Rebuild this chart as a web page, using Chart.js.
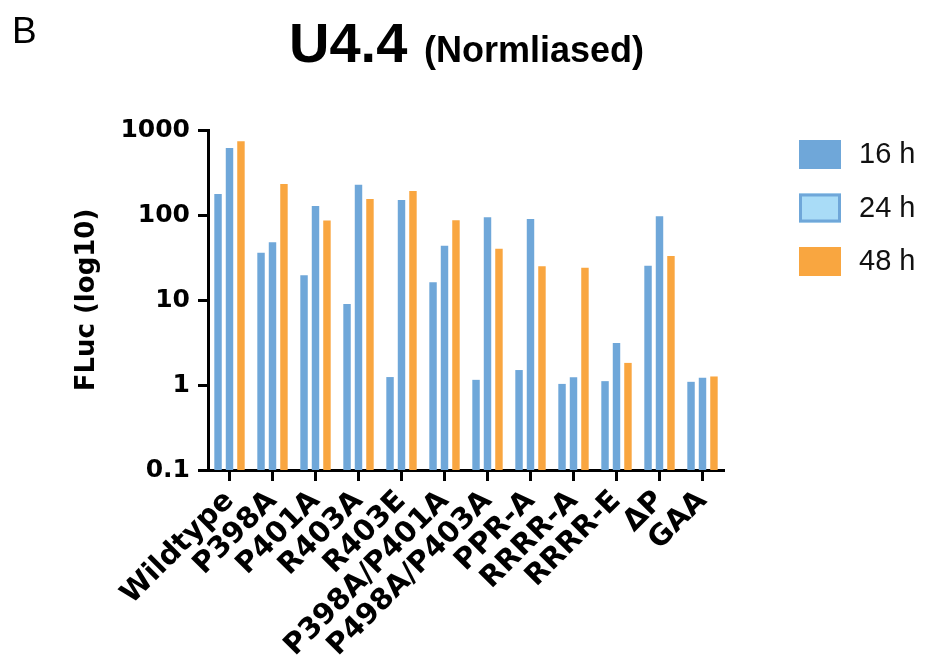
<!DOCTYPE html>
<html>
<head>
<meta charset="utf-8">
<title>U4.4 (Normliased)</title>
<script src="https://cdn.jsdelivr.net/npm/chart.js@4.4.1/dist/chart.umd.min.js"></script>
<style>
  html, body { margin: 0; padding: 0; background: #ffffff; }
  #wrap { width: 925px; height: 659px; position: relative; }
</style>
</head>
<body>
<div id="wrap"><canvas id="c" width="925" height="659"></canvas></div>
<script>
// Constructs tested
const categories = ['Wildtype', 'P398A', 'P401A', 'R403A', 'R403E', 'P398A/P401A',
  'P498A/P403A', 'PPR-A', 'RRRR-A', 'RRRR-E', '\u0394P', 'GAA'];

// Normalised FLuc signal per time point
const fluc16h = [177, 36, 19.5, 9.0, 1.24, 16.2, 1.15, 1.5, 1.03, 1.11, 25.3, 1.09];
const fluc24h = [614, 47.8, 128, 227, 150, 43.5, 94, 90, 1.23, 3.12, 96.5, 1.22];
const fluc48h = [737, 231, 86, 154, 191, 87, 40, 25, 24, 1.82, 33, 1.26];

const seriesLabels = ['16 h', '24 h', '48 h'];

// Decade ticks on the log axis
const yTickValues = [0.1, 1, 10, 100, 1000];
const yTickLabels = ['0.1', '1', '10', '100', '1000'];

const BLUE = '#6fa7d9';
const LIGHT_BLUE = '#a9dcf7';
const ORANGE = '#f9a640';
const WIDE = '"DejaVu Sans", "Liberation Sans", sans-serif';
const SANS = '"Liberation Sans", Arial, Helvetica, sans-serif';

// Heading, panel letter and the key on the right
const decorations = {
  id: 'decorations',
  afterDraw(chart) {
    const ctx = chart.ctx;
    ctx.save();
    ctx.fillStyle = '#000';
    ctx.textBaseline = 'alphabetic';
    ctx.textAlign = 'left';

    ctx.font = '37px ' + SANS;
    ctx.fillText('B', 12, 43);

    ctx.font = 'bold 56px ' + SANS;
    ctx.fillText('U4.4', 289, 62);
    ctx.font = 'bold 36px ' + SANS;
    ctx.fillText('(Normliased)', 424, 62);

    // key
    const keyFill = [BLUE, LIGHT_BLUE, ORANGE];
    const keyStroke = [null, BLUE, null];
    const rowY = [140, 193.5, 247];
    ctx.font = '29px ' + SANS;
    ctx.textBaseline = 'middle';
    chart.data.datasets.forEach((ds, i) => {
      const y = rowY[i];
      ctx.fillStyle = keyFill[i];
      ctx.fillRect(799, y, 42, 29);
      if (keyStroke[i]) {
        ctx.strokeStyle = keyStroke[i];
        ctx.lineWidth = 3;
        ctx.strokeRect(800.5, y + 1.5, 39, 26);
      }
      ctx.fillStyle = '#111';
      ctx.fillText(ds.label, 859, y + 15);
    });
    ctx.restore();
  }
};

const barOpts = { barPercentage: 0.65, categoryPercentage: 0.8, borderWidth: 0 };

new Chart(document.getElementById('c'), {
  type: 'bar',
  data: {
    labels: categories,
    datasets: [
      Object.assign({ label: seriesLabels[0], data: fluc16h, backgroundColor: BLUE }, barOpts),
      Object.assign({ label: seriesLabels[1], data: fluc24h, backgroundColor: BLUE }, barOpts),
      Object.assign({ label: seriesLabels[2], data: fluc48h, backgroundColor: ORANGE }, barOpts)
    ]
  },
  options: {
    responsive: false,
    animation: false,
    devicePixelRatio: 1,
    layout: { padding: { left: 0, right: 201, top: 130, bottom: 0 } },
    plugins: {
      legend: { display: false },
      tooltip: { enabled: false },
      title: { display: false }
    },
    scales: {
      x: {
        type: 'category',
        offset: true,
        grid: {
          offset: false,
          drawOnChartArea: false,
          drawTicks: true,
          tickLength: 11,
          tickWidth: 3,
          tickColor: '#000'
        },
        border: { display: true, color: '#000', width: 3 },
        ticks: {
          autoSkip: false,
          minRotation: 45,
          maxRotation: 45,
          padding: 3,
          color: '#000',
          font: { family: WIDE, size: 29, weight: 'bold' }
        },
        afterFit(scale) { scale.height = 189; }
      },
      y: {
        type: 'logarithmic',
        min: 0.1,
        max: 1000,
        grid: {
          drawOnChartArea: false,
          drawTicks: true,
          tickLength: 10,
          tickWidth: 3,
          tickColor: '#000'
        },
        border: { display: true, color: '#000', width: 3 },
        afterBuildTicks(scale) {
          scale.ticks = yTickValues.map(v => ({ value: v, major: true }));
        },
        ticks: {
          padding: 8,
          color: '#000',
          font: { family: WIDE, size: 25, weight: 'bold' },
          callback(value) {
            const i = yTickValues.indexOf(Number(value));
            return i >= 0 ? yTickLabels[i] : '';
          }
        },
        title: {
          display: true,
          text: 'FLuc (log10)',
          color: '#000',
          font: { family: WIDE, size: 26, weight: 'bold' },
          padding: { top: 72, bottom: 0 }
        },
        afterFit(scale) { scale.width = 208; }
      }
    }
  },
  plugins: [decorations]
});
</script>
</body>
</html>
